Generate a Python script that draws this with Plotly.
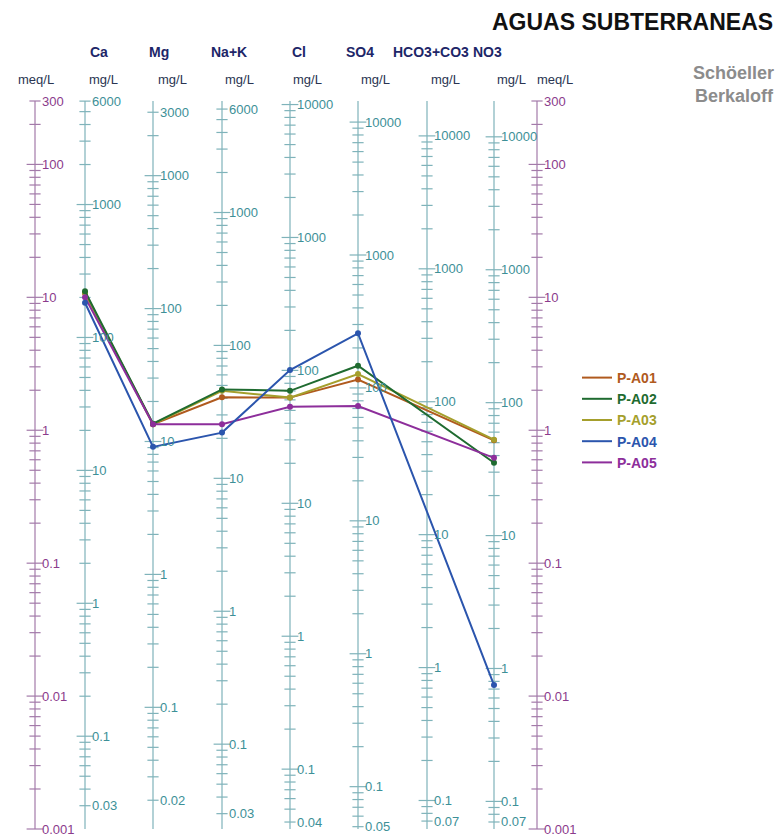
import math
import plotly.graph_objects as go

# ---------------- data ----------------
ions = ["Ca", "Mg", "Na+K", "Cl", "SO4", "HCO3+CO3", "NO3"]
eq_weights = [20.04, 12.15, 23.0, 35.45, 48.03, 61.02, 62.0]   # mg per meq

samples = ["P-A01", "P-A02", "P-A03", "P-A04", "P-A05"]
# concentrations in meq/L  (Ca, Mg, Na+K, Cl, SO4, HCO3+CO3, NO3)
pa01 = [10.8, 1.11, 1.77, 1.76, 2.41, None, 0.84]
pa02 = [11.1, 1.12, 2.03, 1.98, 3.06, None, 0.57]
pa03 = [10.8, 1.11, 1.98, 1.76, 2.65, None, 0.85]
pa04 = [9.1, 0.75, 0.96, 2.84, 5.36, None, 0.0121]
pa05 = [10.0, 1.11, 1.11, 1.50, 1.52, None, 0.62]

meq_range = [0.001, 300]
meq_labels = [300, 100, 10, 1, 0.1, 0.01, 0.001]
ion_tick_labels = [
    [6000, 1000, 100, 10, 1, 0.1, 0.03],
    [3000, 1000, 100, 10, 1, 0.1, 0.02],
    [6000, 1000, 100, 10, 1, 0.1, 0.03],
    [10000, 1000, 100, 10, 1, 0.1, 0.04],
    [10000, 1000, 100, 10, 1, 0.1, 0.05],
    [10000, 1000, 100, 10, 1, 0.1, 0.07],
    [10000, 1000, 100, 10, 1, 0.1, 0.07],
]

# ---------------- style / layout ----------------
W, H = 777, 837
TOP, BOTTOM = 101, 829
AXIS_X_MEQ_L = 35
AXIS_X_IONS = [85, 153, 222, 290, 358, 427, 494]
AXIS_X_MEQ_R = 537
series_colors = ["#b05a1e", "#1f6b30", "#a59f2c", "#2b55ad", "#8d2e9b"]
MEQ_LINE = "#a37aa9"
MEQ_TXT = "#8b3b8c"
MG_LINE = "#7fb3ba"
MG_TXT = "#3d9097"
FONT = "Liberation Sans, Arial, sans-serif"

fig = go.Figure()


def tick_values(lo, hi):
    majors, minors = [], []
    k0 = math.floor(math.log10(lo)) - 1
    k1 = math.ceil(math.log10(hi)) + 1
    for k in range(k0, k1 + 1):
        for m in range(1, 10):
            v = m * 10 ** k
            if lo * 0.9999 <= v <= hi * 1.0001:
                (majors if m == 1 else minors).append(v)
    return majors, minors


def fmt(v):
    return f"{v:g}"


def draw_axis(xpos, weight, labels, line_col, txt_col):
    lo, hi = meq_range[0] * weight, meq_range[1] * weight
    fig.add_trace(go.Scatter(x=[xpos, xpos], y=meq_range, mode="lines",
                             line=dict(color=line_col, width=1.2),
                             showlegend=False, hoverinfo="skip", cliponaxis=False))
    majors, minors = tick_values(lo, hi)
    for vals, size in ((minors, 8), (majors, 12)):
        fig.add_trace(go.Scatter(
            x=[xpos] * len(vals), y=[v / weight for v in vals], mode="markers",
            marker=dict(symbol="line-ew", size=size,
                        line=dict(color=line_col, width=1.2)),
            showlegend=False, hoverinfo="skip", cliponaxis=False))
    for v in labels:
        fig.add_annotation(x=xpos, y=math.log10(v / weight), text=fmt(v),
                           xanchor="left", yanchor="middle", xshift=5,
                           showarrow=False,
                           font=dict(family=FONT, size=13, color=txt_col))


draw_axis(AXIS_X_MEQ_L, 1.0, meq_labels, MEQ_LINE, MEQ_TXT)
for xpos, w, labs in zip(AXIS_X_IONS, eq_weights, ion_tick_labels):
    draw_axis(xpos, w, labs, MG_LINE, MG_TXT)
draw_axis(AXIS_X_MEQ_R, 1.0, meq_labels, MEQ_LINE, MEQ_TXT)

# ---------------- sample lines ----------------
series = [pa01, pa02, pa03, pa04, pa05]
order = [0, 2, 1, 4, 3]
for i in order:
    fig.add_trace(go.Scatter(
        x=AXIS_X_IONS, y=series[i], mode="lines+markers", connectgaps=True,
        line=dict(color=series_colors[i], width=2),
        marker=dict(color=series_colors[i], size=6),
        name=samples[i], showlegend=False, cliponaxis=False))

# legend entries (line only)
for name, col in zip(samples, series_colors):
    fig.add_trace(go.Scatter(
        x=[None], y=[None], mode="lines", line=dict(color=col, width=2),
        name=f"<b><span style='color:{col}'>{name}</span></b>",
        showlegend=True))


# ---------------- header texts ----------------
def py(pix):
    return (BOTTOM - pix) / (BOTTOM - TOP)


def px(pix):
    return pix / W


def txt(text, x, y, size, color, bold=False, anchor="center"):
    fig.add_annotation(x=px(x), y=py(y), xref="paper", yref="paper",
                       text=f"<b>{text}</b>" if bold else text,
                       xanchor=anchor, yanchor="middle", showarrow=False,
                       font=dict(family=FONT, size=size, color=color))


txt("AGUAS SUBTERRANEAS", 775, 22, 23, "#111111", bold=True, anchor="right")
ion_title_x = [99, 159, 229, 299, 360, 431, 487]
for name, x in zip(ions, ion_title_x):
    txt(name, x, 52, 14, "#1d2668", bold=True)
unit_x = [103, 172, 239, 307, 375, 445, 511]
txt("meq/L", 36, 79, 13, "#2a3552")
for x in unit_x:
    txt("mg/L", x, 79, 13, "#2a3552")
txt("meq/L", 555, 79, 13, "#2a3552")
txt("Schöeller", 776, 73, 18, "#8c8c8c", bold=True, anchor="right")
txt("Berkaloff", 776, 96, 18, "#8c8c8c", bold=True, anchor="right")

fig.update_layout(
    width=W, height=H,
    margin=dict(l=0, r=0, t=TOP, b=H - BOTTOM, pad=0),
    paper_bgcolor="white", plot_bgcolor="white",
    xaxis=dict(range=[0, W], visible=False, fixedrange=True),
    yaxis=dict(type="log", range=[math.log10(meq_range[0]), math.log10(meq_range[1])],
               visible=False, fixedrange=True),
    showlegend=True,
    legend=dict(x=px(577), y=py(362), xanchor="left", yanchor="top",
                font=dict(family=FONT, size=14), itemwidth=30,
                bgcolor="rgba(0,0,0,0)", tracegroupgap=0),
)

fig.write_html("out.html", config={"displayModeBar": False},
               post_script="document.body.style.margin='0px';"
                           "document.body.style.overflow='hidden';")
